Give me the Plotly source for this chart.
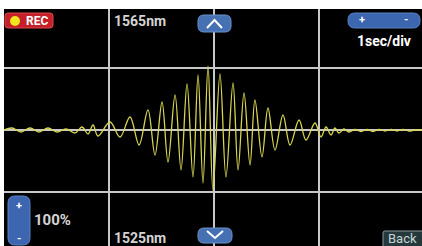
import plotly.graph_objects as go

# ---- data (time in s, 1 s/div; amplitude in divisions) ----
time_s = [0.000, 0.076, 0.162, 0.248, 0.333, 0.419, 0.505, 0.590, 0.676, 0.743, 0.800, 0.848, 0.895,
          1.010, 1.105, 1.200, 1.286, 1.371, 1.438, 1.505, 1.562, 1.629, 1.686, 1.743, 1.800, 1.848,
          1.895, 1.943, 1.990, 2.057, 2.114, 2.181, 2.229, 2.286, 2.343, 2.390, 2.457, 2.514, 2.581,
          2.657, 2.724, 2.810, 2.876,
          2.962, 3.019, 3.067, 3.114, 3.152, 3.190, 3.238, 3.286, 3.343, 3.400, 3.457, 3.514, 3.571,
          3.629, 3.686, 3.743, 3.800, 3.857, 3.914, 3.981]
signal = [0.000, 0.032, -0.032, 0.032, -0.032, 0.032, -0.032, 0.016, -0.048, 0.048, -0.065, 0.081, -0.097,
          0.129, -0.113, 0.210, -0.242, 0.323, -0.403, 0.452, -0.516, 0.565, -0.645, 0.742, -0.758, 0.887,
          -0.855, 1.032, -0.968, 0.903, -0.758, 0.758, -0.645, 0.597, -0.565, 0.484, -0.435, 0.355, -0.323,
          0.242, -0.242, 0.161, -0.161,
          0.113, -0.113, 0.048, -0.081, 0.032, -0.048, 0.016, -0.032, 0.008, -0.024, 0.008, -0.024, 0.008,
          -0.016, 0.008, -0.016, 0.008, -0.016, 0.000, 0.000]

top_label = "1565nm"
bottom_label = "1525nm"
timebase_label = "1sec/div"
gain_label = "100%"

W, H, L, T = 422, 246, 4, 9


def X(p):
    return (p - L) / (W - L)


def Y(p):
    return (H - p) / (H - T)


def rrect(x0, y0, x1, y1, r):
    return (f"M {X(x0 + r)},{Y(y0)} L {X(x1 - r)},{Y(y0)} Q {X(x1)},{Y(y0)} {X(x1)},{Y(y0 + r)} "
            f"L {X(x1)},{Y(y1 - r)} Q {X(x1)},{Y(y1)} {X(x1 - r)},{Y(y1)} "
            f"L {X(x0 + r)},{Y(y1)} Q {X(x0)},{Y(y1)} {X(x0)},{Y(y1 - r)} "
            f"L {X(x0)},{Y(y0 + r)} Q {X(x0)},{Y(y0)} {X(x0 + r)},{Y(y0)} Z")


fig = go.Figure()
fig.add_trace(go.Scatter(x=time_s, y=signal, mode="lines",
                         line=dict(color="#d8d650", width=1.3, shape="spline", smoothing=1.0),
                         hoverinfo="skip"))

fig.update_layout(
    width=W, height=H,
    margin=dict(l=L, r=0, t=T, b=0),
    paper_bgcolor="white", plot_bgcolor="black",
    showlegend=False,
    xaxis=dict(range=[0, (W - L) / 105], dtick=1, tick0=0, showgrid=True, gridcolor="#c8c8c8",
               gridwidth=1.6, zeroline=False, showticklabels=False, ticks="", fixedrange=True),
    yaxis=dict(range=[(130 - H) / 62, (130 - T) / 62], dtick=1, tick0=0, showgrid=True,
               gridcolor="#c8c8c8", gridwidth=1.6, zeroline=False, showticklabels=False, ticks="",
               fixedrange=True),
)

shapes = []
# REC button
shapes.append(dict(type="path", xref="paper", yref="paper", path=rrect(5, 13, 53, 28, 3),
                   fillcolor="#c41f2a", line=dict(color="#e04848", width=1)))
shapes.append(dict(type="circle", xref="paper", yref="paper", x0=X(10), x1=X(20), y0=Y(26), y1=Y(16),
                   fillcolor="#f2e41e", line=dict(width=0)))
# up / down buttons
shapes.append(dict(type="path", xref="paper", yref="paper", path=rrect(198, 15, 231, 32, 6),
                   fillcolor="#4570b2", line=dict(color="#6c92cc", width=1)))
shapes.append(dict(type="path", xref="paper", yref="paper",
                   path=f"M {X(207)},{Y(28)} L {X(214.5)},{Y(20)} L {X(222)},{Y(28)}",
                   line=dict(color="white", width=2)))
shapes.append(dict(type="path", xref="paper", yref="paper", path=rrect(198, 228, 232, 243, 6),
                   fillcolor="#4570b2", line=dict(color="#6c92cc", width=1)))
shapes.append(dict(type="path", xref="paper", yref="paper",
                   path=f"M {X(207)},{Y(231)} L {X(215)},{Y(238)} L {X(223)},{Y(231)}",
                   line=dict(color="white", width=2)))
# time base pill
shapes.append(dict(type="path", xref="paper", yref="paper", path=rrect(348, 13, 420, 28, 7),
                   fillcolor="#3d66b0", line=dict(color="#5a82c4", width=1)))
# gain pill
shapes.append(dict(type="path", xref="paper", yref="paper", path=rrect(8, 196, 30, 245, 7),
                   fillcolor="#3d66b0", line=dict(color="#5a82c4", width=1)))
# Back button
shapes.append(dict(type="path", xref="paper", yref="paper", path=rrect(383, 231, 424, 250, 2),
                   fillcolor="#25393c", line=dict(color="#8a9a9a", width=1)))
fig.update_layout(shapes=shapes)

ann_font = dict(family="Roboto", size=14, color="#d4d4d4")
anns = [
    dict(text="<b>REC</b>", x=X(37), y=Y(21), font=dict(family="Roboto", size=12, color="white"),
         xanchor="center"),
    dict(text="<b>" + top_label + "</b>", x=X(112), y=Y(21), font=ann_font, xanchor="left"),
    dict(text="<b>" + bottom_label + "</b>", x=X(112), y=Y(238), font=ann_font, xanchor="left"),
    dict(text="<b>+</b>", x=X(362), y=Y(20), font=dict(family="Roboto", size=11, color="white"),
         xanchor="center"),
    dict(text="<b>-</b>", x=X(406), y=Y(20), font=dict(family="Roboto", size=11, color="white"),
         xanchor="center"),
    dict(text="<b>" + timebase_label + "</b>", x=X(384), y=Y(41), font=dict(family="Roboto", size=14,
         color="white"), xanchor="center"),
    dict(text="<b>+</b>", x=X(19), y=Y(205), font=dict(family="Roboto", size=11, color="white"),
         xanchor="center"),
    dict(text="<b>-</b>", x=X(19), y=Y(238), font=dict(family="Roboto", size=11, color="white"),
         xanchor="center"),
    dict(text="<b>" + gain_label + "</b>", x=X(32), y=Y(220), font=dict(family="Roboto", size=15,
         color="#d4d4d4"), xanchor="left"),
    dict(text="Back", x=X(402), y=Y(238), font=dict(family="Roboto", size=13, color="#c4d4d4"),
         xanchor="center"),
]
for a in anns:
    a.update(xref="paper", yref="paper", showarrow=False, yanchor="middle")
fig.update_layout(annotations=anns)

fig.write_html("out.html", config={"displayModeBar": False},
               post_script="document.body.style.margin='0px';document.body.style.overflow='hidden';")
